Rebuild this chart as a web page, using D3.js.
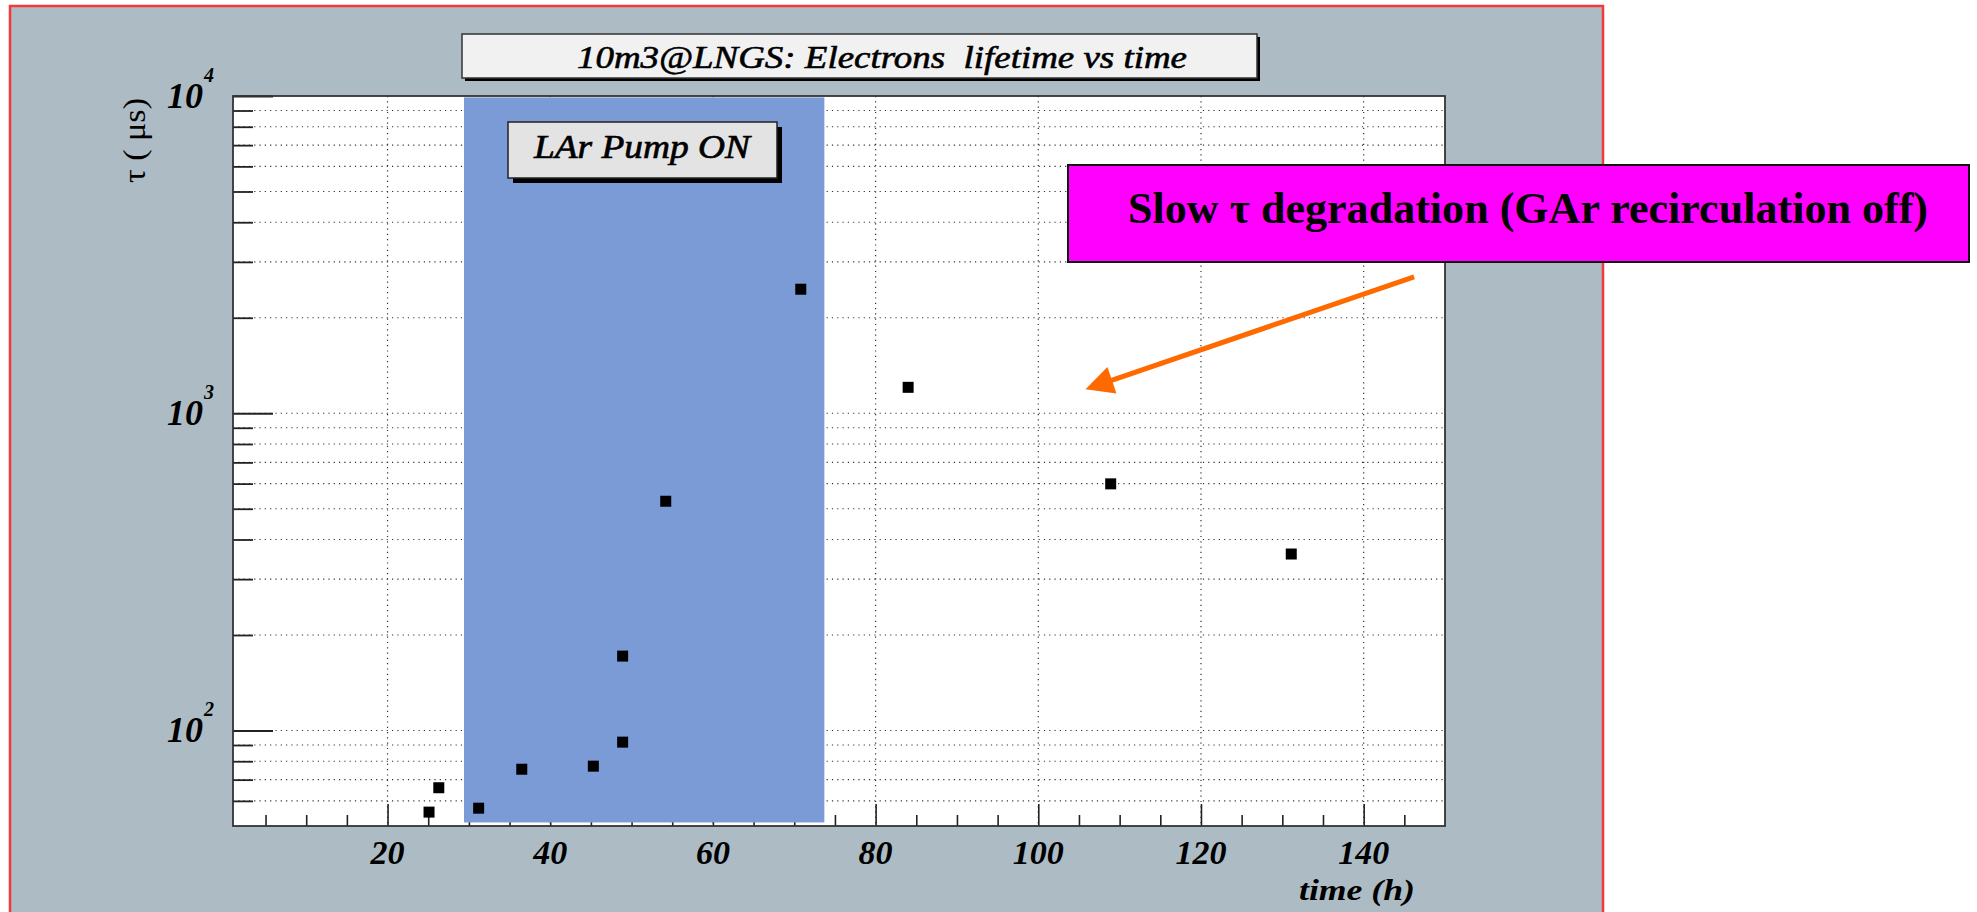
<!DOCTYPE html>
<html>
<head>
<meta charset="utf-8">
<script src="https://cdn.jsdelivr.net/npm/d3@7"></script>
<style>
  body { margin: 0; background: #fff; }
  svg { display: block; }
  text { white-space: pre; }
</style>
</head>
<body>
<div id="chart"></div>
<script>
// data
const timeH = [25.1, 26.3, 31.2, 36.5, 45.3, 48.9, 48.9, 54.2, 70.8, 84.0, 108.9, 131.1];
const tauUs = [55.3, 66.0, 56.9, 75.5, 77.2, 91.9, 171.6, 528, 2460, 1207, 599, 360];

const xMajorTicks = [20, 40, 60, 80, 100, 120, 140];
const xMinorTicks = [5, 10, 15, 25, 30, 35, 45, 50, 55, 65, 70, 75, 85, 90, 95, 105, 110, 115, 125, 130, 135, 145];
const yDecades = [100, 1000, 10000];
const yExponents = ["2", "3", "4"];
const pumpOnRange = [29.4, 73.7];
const pumpOnTau = [51.3, 9900];
const arrowFrom = [146.2, 2690];
const arrowTo = [105.8, 1190];

const titleText = "10m3@LNGS: Electrons  lifetime vs time";
const pumpText = "LAr Pump ON";
const noteText = "Slow \u03c4 degradation (GAr recirculation off)";
const xTitle = "time (h)";
const yTitle = "\u03c4 ( \u03bcs)";

const W = 1977, H = 912;
const plot = {left: 233, right: 1445, top: 96, bottom: 826};
const serif = "'Liberation Serif', 'Times New Roman', serif";

const svg = d3.select("#chart")
    .append("svg")
    .attr("width", W)
    .attr("height", H);

svg.append("rect").attr("width", W).attr("height", H).attr("fill", "#fff");

// gray pad with red frame
svg.append("rect")
    .attr("x", 10).attr("y", 6)
    .attr("width", 1593).attr("height", H + 20)
    .attr("fill", "#adbcc4")
    .attr("stroke", "#f23a3a")
    .attr("stroke-width", 2.5);

const x = d3.scaleLinear().domain([1, 150]).range([plot.left, plot.right]);
const y = d3.scaleLog().domain([50, 10000]).range([plot.bottom, plot.top]);

svg.append("rect")
    .attr("x", plot.left).attr("y", plot.top)
    .attr("width", plot.right - plot.left).attr("height", plot.bottom - plot.top)
    .attr("fill", "#fff");

const yTicks = y.ticks().filter(v => v > 50);

// dotted grid
const grid = svg.append("g")
    .attr("stroke", "#333")
    .attr("stroke-width", 1.2)
    .attr("stroke-dasharray", "1.2,4.1");

grid.selectAll(".hgrid")
    .data(yTicks.filter(v => v < 10000))
    .join("line")
    .attr("x1", plot.left).attr("x2", plot.right)
    .attr("y1", d => y(d)).attr("y2", d => y(d));

grid.selectAll(".vgrid")
    .data(xMajorTicks)
    .join("line")
    .attr("x1", d => x(d)).attr("x2", d => x(d))
    .attr("y1", plot.top).attr("y2", plot.bottom);

// y ticks, pointing inwards
const yAxis = svg.append("g")
    .attr("transform", `translate(${plot.left},0)`)
    .call(d3.axisRight(y).tickValues(yTicks).tickSize(20).tickFormat(""));
yAxis.select(".domain").remove();
yAxis.selectAll(".tick line")
    .attr("stroke", "#222")
    .attr("stroke-width", 1.8)
    .attr("x2", d => yDecades.includes(d) ? 40 : 20);

// x ticks, pointing inwards
const xAxis = svg.append("g")
    .attr("transform", `translate(0,${plot.bottom})`)
    .call(d3.axisTop(x).tickValues(xMinorTicks.concat(xMajorTicks)).tickSize(11).tickFormat(""));
xAxis.select(".domain").remove();
xAxis.selectAll(".tick line")
    .attr("stroke", "#222")
    .attr("stroke-width", 1.6)
    .attr("y2", d => xMajorTicks.includes(d) ? -22 : -11);

// LAr pump on band
svg.append("rect")
    .attr("x", x(pumpOnRange[0]))
    .attr("y", y(pumpOnTau[1]))
    .attr("width", x(pumpOnRange[1]) - x(pumpOnRange[0]))
    .attr("height", y(pumpOnTau[0]) - y(pumpOnTau[1]))
    .attr("fill", "#7b9bd6");

// frame
svg.append("rect")
    .attr("x", plot.left).attr("y", plot.top)
    .attr("width", plot.right - plot.left).attr("height", plot.bottom - plot.top)
    .attr("fill", "none")
    .attr("stroke", "#333")
    .attr("stroke-width", 1.8);

// x tick labels
svg.selectAll(".xlab")
    .data(xMajorTicks)
    .join("text")
    .attr("x", d => x(d))
    .attr("y", 864)
    .attr("text-anchor", "middle")
    .attr("font-family", serif)
    .attr("font-style", "italic")
    .attr("font-weight", "bold")
    .attr("font-size", 34)
    .text(d => d);

// y tick labels 10^n
const ylab = svg.selectAll(".ylab")
    .data(yDecades)
    .join("g")
    .attr("transform", d => `translate(0,${y(d)})`);
ylab.append("text")
    .attr("x", 203)
    .attr("y", 12)
    .attr("text-anchor", "end")
    .attr("font-family", serif)
    .attr("font-style", "italic")
    .attr("font-weight", "bold")
    .attr("font-size", 36)
    .text("10");
ylab.append("text")
    .attr("x", 204)
    .attr("y", -14)
    .attr("font-family", serif)
    .attr("font-style", "italic")
    .attr("font-weight", "bold")
    .attr("font-size", 20)
    .text((d, i) => yExponents[i]);

// axis titles
svg.append("text")
    .attr("x", 1415)
    .attr("y", 900)
    .attr("text-anchor", "end")
    .attr("font-family", serif)
    .attr("font-style", "italic")
    .attr("font-weight", "bold")
    .attr("font-size", 30)
    .attr("textLength", 116)
    .attr("lengthAdjust", "spacingAndGlyphs")
    .text(xTitle);

svg.append("text")
    .attr("transform", "translate(145,98) rotate(-90)")
    .attr("text-anchor", "end")
    .attr("font-family", serif)
    .attr("font-size", 31)
    .attr("textLength", 85)
    .attr("lengthAdjust", "spacingAndGlyphs")
    .text(yTitle);

// LAr pump label box
svg.append("rect")
    .attr("x", 513).attr("y", 127)
    .attr("width", 269).attr("height", 56)
    .attr("fill", "#000");
svg.append("rect")
    .attr("x", 508).attr("y", 122)
    .attr("width", 269).attr("height", 56)
    .attr("fill", "#e3e3e3")
    .attr("stroke", "#222")
    .attr("stroke-width", 1.5);
svg.append("text")
    .attr("x", 534).attr("y", 158)
    .attr("font-family", serif)
    .attr("font-style", "italic")
    .attr("font-size", 34)
    .attr("stroke", "#000")
    .attr("stroke-width", 0.7)
    .attr("textLength", 216)
    .attr("lengthAdjust", "spacingAndGlyphs")
    .text(pumpText);

// data points
svg.selectAll(".pt")
    .data(timeH.map((t, i) => ({t, v: tauUs[i]})))
    .join("rect")
    .attr("x", d => x(d.t) - 5.5)
    .attr("y", d => y(d.v) - 5.5)
    .attr("width", 11)
    .attr("height", 11)
    .attr("fill", "#000");

// title box
svg.append("rect")
    .attr("x", 465).attr("y", 37)
    .attr("width", 795).attr("height", 44)
    .attr("fill", "#000");
svg.append("rect")
    .attr("x", 462).attr("y", 34)
    .attr("width", 795).attr("height", 44)
    .attr("fill", "#f1f1f1")
    .attr("stroke", "#333")
    .attr("stroke-width", 1.5);
svg.append("text")
    .attr("x", 577).attr("y", 68)
    .attr("font-family", serif)
    .attr("font-style", "italic")
    .attr("font-size", 32)
    .attr("stroke", "#000")
    .attr("stroke-width", 0.6)
    .attr("textLength", 610)
    .attr("lengthAdjust", "spacingAndGlyphs")
    .text(titleText);

// magenta note
svg.append("rect")
    .attr("x", 1068).attr("y", 165)
    .attr("width", 901).attr("height", 97)
    .attr("fill", "#ff00ff")
    .attr("stroke", "#111")
    .attr("stroke-width", 2);
svg.append("text")
    .attr("x", 1128).attr("y", 223)
    .attr("font-family", serif)
    .attr("font-weight", "bold")
    .attr("font-size", 45)
    .attr("textLength", 800)
    .attr("lengthAdjust", "spacingAndGlyphs")
    .text(noteText);

// orange arrow
const ax0 = x(arrowFrom[0]), ay0 = y(arrowFrom[1]);
const ax1 = x(arrowTo[0]), ay1 = y(arrowTo[1]);
const len = Math.hypot(ax1 - ax0, ay1 - ay0);
const ux = (ax1 - ax0) / len, uy = (ay1 - ay0) / len;
const headL = 28, headW = 14;
const bx = ax1 - ux * headL, by = ay1 - uy * headL;
svg.append("line")
    .attr("x1", ax0).attr("y1", ay0)
    .attr("x2", bx + ux * 2).attr("y2", by + uy * 2)
    .attr("stroke", "#ff6a00")
    .attr("stroke-width", 5);
svg.append("path")
    .attr("d", `M${ax1},${ay1}L${bx - uy * headW},${by + ux * headW}L${bx + uy * headW},${by - ux * headW}Z`)
    .attr("fill", "#ff6a00");
</script>
</body>
</html>
